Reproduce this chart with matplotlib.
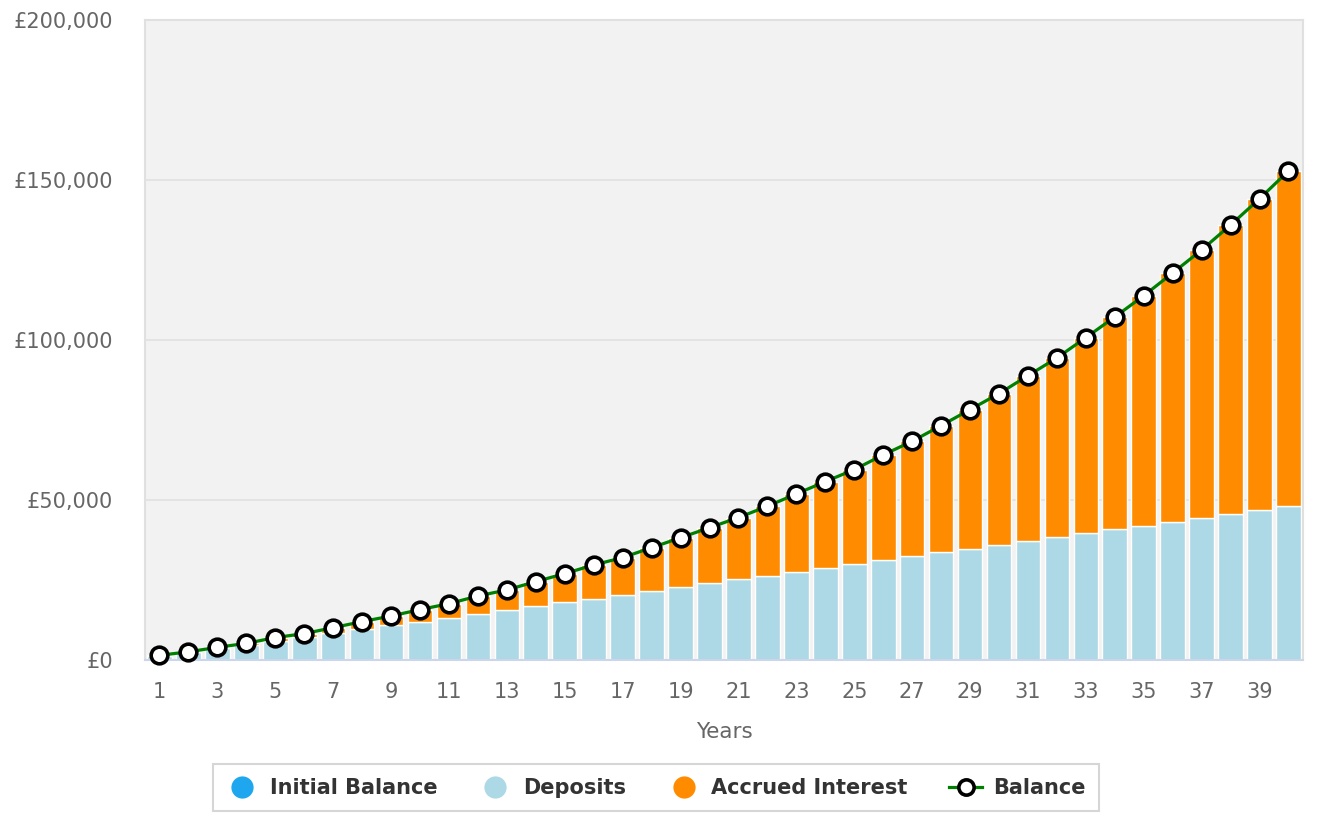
import numpy as np
import matplotlib
matplotlib.use("Agg")
import matplotlib.pyplot as plt
from matplotlib.lines import Line2D
from matplotlib.ticker import FuncFormatter

# Values
years = list(range(1, 41))
initial_balance = [0] * 40
deposits = [1200, 2400, 3600, 4800, 6000, 7200, 8400, 9600, 10800, 12000,
            13200, 14400, 15600, 16800, 18000, 19200, 20400, 21600, 22800, 24000,
            25200, 26400, 27600, 28800, 30000, 31200, 32400, 33600, 34800, 36000,
            37200, 38400, 39600, 40800, 42000, 43200, 44400, 45600, 46800, 48000]
balance = [1450, 2550, 3950, 5200, 7000, 8250, 10100, 12000, 13750, 15750,
           17600, 20000, 21900, 24500, 27000, 29700, 32000, 35100, 38200, 41350,
           44500, 48050, 51900, 55750, 59500, 64100, 68350, 73250, 78250, 83250,
           88850, 94400, 100750, 107200, 113850, 120950, 128150, 135950, 144150, 152850]

x_ticks = list(range(1, 40, 2))
y_ticks = [0, 50000, 100000, 150000, 200000]

c_initial = "#1ea7ef"
c_deposits = "#add8e6"
c_interest = "#ff8c00"
c_line = "#008000"


def main():
    plt.rcParams["font.family"] = ["DejaVu Sans"]

    init = np.array(initial_balance, dtype=float)
    dep = np.array(deposits, dtype=float)
    bal = np.array(balance, dtype=float)
    interest = bal - dep - init

    fig = plt.figure(figsize=(13.18, 8.31), dpi=100)
    ax = fig.add_axes([0.110, 0.2058, 0.9886 - 0.110, 0.9759 - 0.2058])
    ax.set_facecolor("#f2f2f2")

    ax.set_axisbelow(True)
    ax.yaxis.grid(True, color="#e3e3e3", linewidth=1.4)

    w = 0.85
    ax.bar(years, init, width=w, color=c_initial, edgecolor="white",
           linewidth=1.0, zorder=2)
    ax.bar(years, dep, width=w, bottom=init, color=c_deposits,
           edgecolor="white", linewidth=1.0, zorder=2)
    ax.bar(years, interest, width=w, bottom=init + dep, color=c_interest,
           edgecolor="white", linewidth=1.0, zorder=2)
    ax.plot(years, bal, color=c_line, linewidth=2.3, marker="o",
            markersize=12, markerfacecolor="white", markeredgecolor="black",
            markeredgewidth=2.6, zorder=4, clip_on=False)

    ax.set_xlim(0.5, 40.5)
    ax.set_ylim(0, 200000)
    ax.set_xticks(x_ticks)
    ax.set_yticks(y_ticks)
    ax.yaxis.set_major_formatter(FuncFormatter(lambda v, p: f"£{v:,.0f}"))
    ax.tick_params(axis="y", length=0, pad=23, labelsize=15, labelcolor="#666666")
    ax.tick_params(axis="x", length=0, pad=16, labelsize=15, labelcolor="#666666")
    ax.set_xlabel("Years", fontsize=15.5, color="#666666", labelpad=14)

    for side in ["left", "top", "right"]:
        ax.spines[side].set_color("#e0e0e0")
        ax.spines[side].set_linewidth(1.5)
    ax.spines["bottom"].set_color("#ccd6eb")
    ax.spines["bottom"].set_linewidth(1.5)
    ax.spines["bottom"].set_zorder(3)

    handles = [
        Line2D([], [], linestyle="none", marker="o", markersize=16,
               color=c_initial, markeredgewidth=0),
        Line2D([], [], linestyle="none", marker="o", markersize=16,
               color=c_deposits, markeredgewidth=0),
        Line2D([], [], linestyle="none", marker="o", markersize=16,
               color=c_interest, markeredgewidth=0),
        Line2D([], [], color=c_line, linewidth=2.3, marker="o", markersize=11,
               markerfacecolor="white", markeredgecolor="black",
               markeredgewidth=2.6),
    ]
    labels = ["Initial Balance", "Deposits", "Accrued Interest", "Balance"]
    leg = fig.legend(handles, labels, loc="center", ncol=4,
                     bbox_to_anchor=(0.4977, 0.0518),
                     prop={"size": 15, "weight": "bold"},
                     handlelength=1.55, handletextpad=0.55,
                     columnspacing=2.0, borderpad=0.65,
                     frameon=True, fancybox=False)
    leg.get_frame().set_edgecolor("#cccccc")
    leg.get_frame().set_linewidth(1.5)
    for t in leg.get_texts():
        t.set_color("#333333")

    fig.savefig("out.png", dpi=100)


if __name__ == "__main__":
    main()
